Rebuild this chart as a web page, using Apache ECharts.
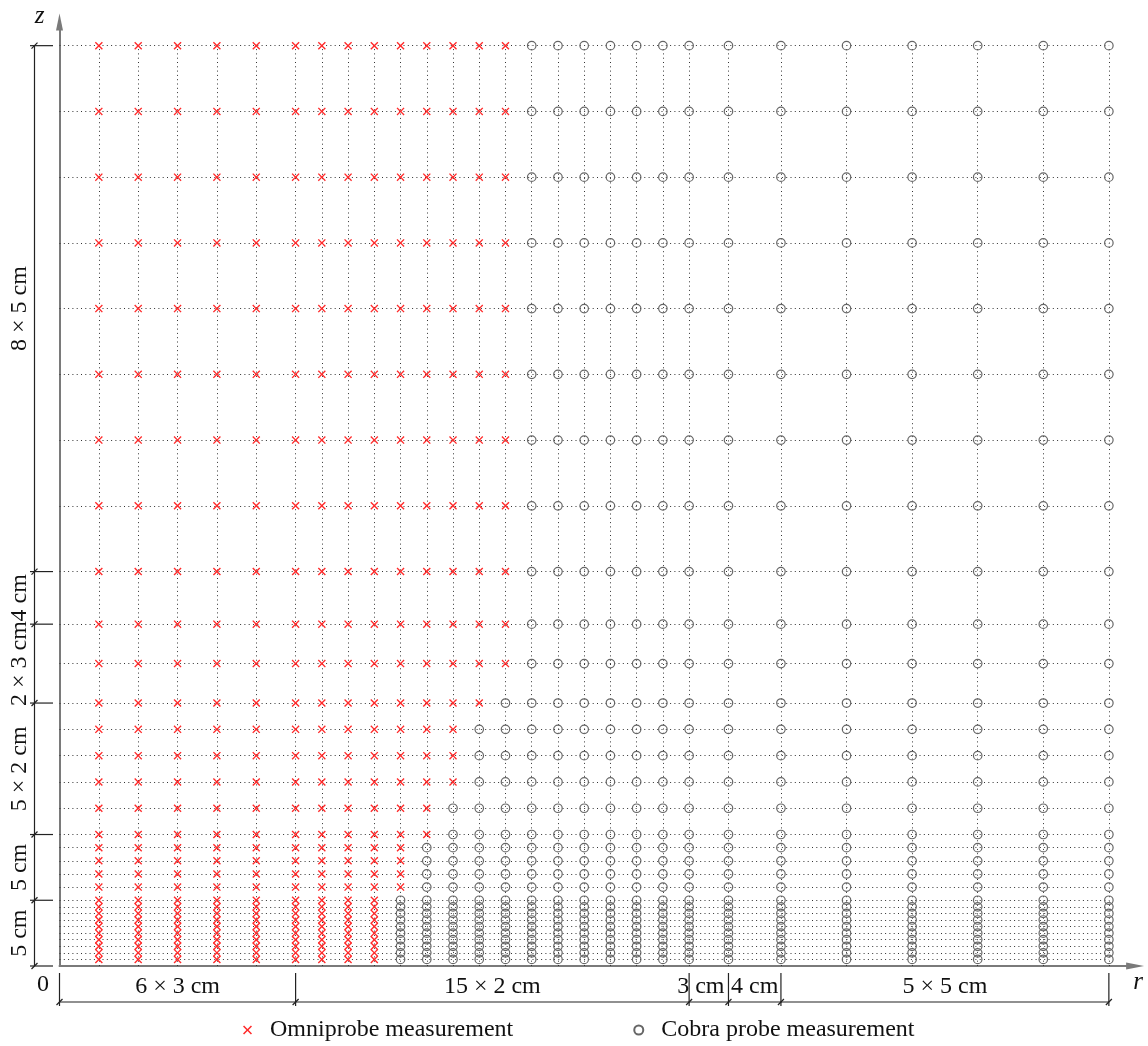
<!DOCTYPE html>
<html><head><meta charset="utf-8">
<script src="https://cdn.jsdelivr.net/npm/echarts@6/dist/echarts.min.js"></script>
<style>html,body{margin:0;padding:0;background:#fff}#c{width:1148px;height:1046px}</style>
</head><body><div id="c"></div>
<script>
// measurement columns (r, cm) and rows (z, cm)
const rCols = [3,6,9,12,15,18,20,22,24,26,28,30,32,34,36,38,40,42,44,46,48,51,55,60,65,70,75,80];
const zRows = [0.5,1,1.5,2,2.5,3,3.5,4,4.5,5,6,7,8,9,10,12,14,16,18,20,23,26,30,35,40,45,50,55,60,65,70];
// largest r measured with the omniprobe on each row (rest: cobra probe)
const omniMaxR = [24,24,24,24,24,24,24,24,24,24,26,26,26,26,28,28,30,30,30,32,34,34,34,34,34,34,34,34,34,34,34];
// dimension annotations
const rDims = [0,18,48,51,55,80];
const rDimLabels = ['6 × 3 cm','15 × 2 cm','3 cm','4 cm','5 × 5 cm'];
const zDims = [0,5,10,20,26,30,70];
const zDimLabels = ['5 cm','5 cm','5 × 2 cm','2 × 3 cm','4 cm','8 × 5 cm'];
const legendNames = ['Omniprobe measurement','Cobra probe measurement'];

const omniPts = [], cobraPts = [];
zRows.forEach((z,i)=>rCols.forEach(r=>{ (r<=omniMaxR[i]?omniPts:cobraPts).push([r,z]); }));
const rMax = rCols[rCols.length-1], zMax = zRows[zRows.length-1];
const hLines = zRows.map(z=>({coords:[[0,z],[rMax,z]]}));
const vLines = rCols.map(r=>({coords:[[r,0],[r,zMax]]}));

const FONT = 'Liberation Serif';
const FS = 24;
const TXT = '#111';
const crossPath = 'path://M1.2,0L5,3.8L8.8,0L10,1.2L6.2,5L10,8.8L8.8,10L5,6.2L1.2,10L0,8.8L3.8,5L0,1.2Z';
const chart = echarts.init(document.getElementById('c'));
const axisCommon = {type:'value', axisTick:{show:false}, axisLabel:{show:false}, splitLine:{show:false}};
chart.setOption({
  animation:false,
  grid:{left:59.5, right:12.9, top:22, bottom:80, containLabel:false},
  xAxis:Object.assign({}, axisCommon, {min:0, max:82,
    axisLine:{show:true, onZero:false, lineStyle:{color:'#7a7a7a', width:2}, symbol:['none','triangle'], symbolSize:[7,18]}}),
  yAxis:Object.assign({}, axisCommon, {min:0, max:71.8,
    axisLine:{show:true, onZero:false, lineStyle:{color:'#7a7a7a', width:2}, symbol:['none','triangle'], symbolSize:[7,17]}}),
  legend:{top:1013, left:238, itemWidth:9, itemHeight:9, itemGap:120,
    textStyle:{fontFamily:FONT, fontSize:FS, color:TXT, padding:[0,0,0,13]},
    data:legendNames},
  series:[
    {type:'lines', coordinateSystem:'cartesian2d', silent:true, z:1, data:hLines,
     lineStyle:{color:'#333', width:1, type:[1,3.3], opacity:1}},
    {type:'lines', coordinateSystem:'cartesian2d', silent:true, z:1, data:vLines,
     lineStyle:{color:'#333', width:1, type:[1,3.3], opacity:1}},
    {type:'scatter', name:legendNames[0], symbol:crossPath, symbolSize:8, z:3, data:omniPts,
     itemStyle:{color:'#ff2a2a', opacity:1}},
    {type:'scatter', name:legendNames[1], symbol:'circle', symbolSize:8.5, z:3, data:cobraPts,
     itemStyle:{color:'rgba(0,0,0,0)', borderColor:'#666', borderWidth:1.2, opacity:1}}
  ]
});

function px(r,z){ return chart.convertToPixel({gridIndex:0},[r,z]); }
const g = [];
const LC = '#222';
function line(x1,y1,x2,y2,w){ g.push({type:'line', shape:{x1,y1,x2,y2}, style:{stroke:LC, lineWidth:w||1.2}, silent:true}); }
function text(t,x,y,font){ g.push({type:'text', x, y, style:{text:t, fill:TXT, font:font||(FS+'px "'+FONT+'"'), align:'center', verticalAlign:'middle'}, silent:true}); }

const o = px(0,0), x0 = o[0], y0 = o[1];
// bottom dimension line
const dimY = y0+36;
const rLabelShift = [0,0,-8,0,0]; // layout nudge so neighbouring narrow labels do not collide
line(px(rDims[0],0)[0], dimY, px(rDims[rDims.length-1],0)[0], dimY);
rDims.forEach(b=>{ const x = px(b,0)[0]; line(x, y0+7, x, y0+40); line(x-3, dimY+3, x+3, dimY-3); });
rDimLabels.forEach((t,i)=>{ const xm = (px(rDims[i],0)[0]+px(rDims[i+1],0)[0])/2; text(t, xm+rLabelShift[i], dimY-15); });
// left dimension line
const dimX = x0-25;
line(dimX, px(0,zDims[0])[1], dimX, px(0,zDims[zDims.length-1])[1]);
zDims.forEach(b=>{ const y = px(0,b)[1]; line(x0-29.5, y, x0-6.5, y); line(dimX-3, y+3, dimX+3, y-3); });
zDimLabels.forEach((t,i)=>{ const ym = (px(0,zDims[i])[1]+px(0,zDims[i+1])[1])/2;
  g.push({type:'text', x:x0-40, y:ym, rotation:Math.PI/2, style:{text:t, fill:TXT, font:FS+'px "'+FONT+'"', align:'center', verticalAlign:'middle'}, silent:true}); });
// origin & axis names
text('0', x0-16.5, dimY-17);
text('z', x0-20, 16, 'italic 25px "'+FONT+'"');
text('r', 1138, y0+16, 'italic 25px "'+FONT+'"');
chart.setOption({graphic:g});
</script></body></html>
